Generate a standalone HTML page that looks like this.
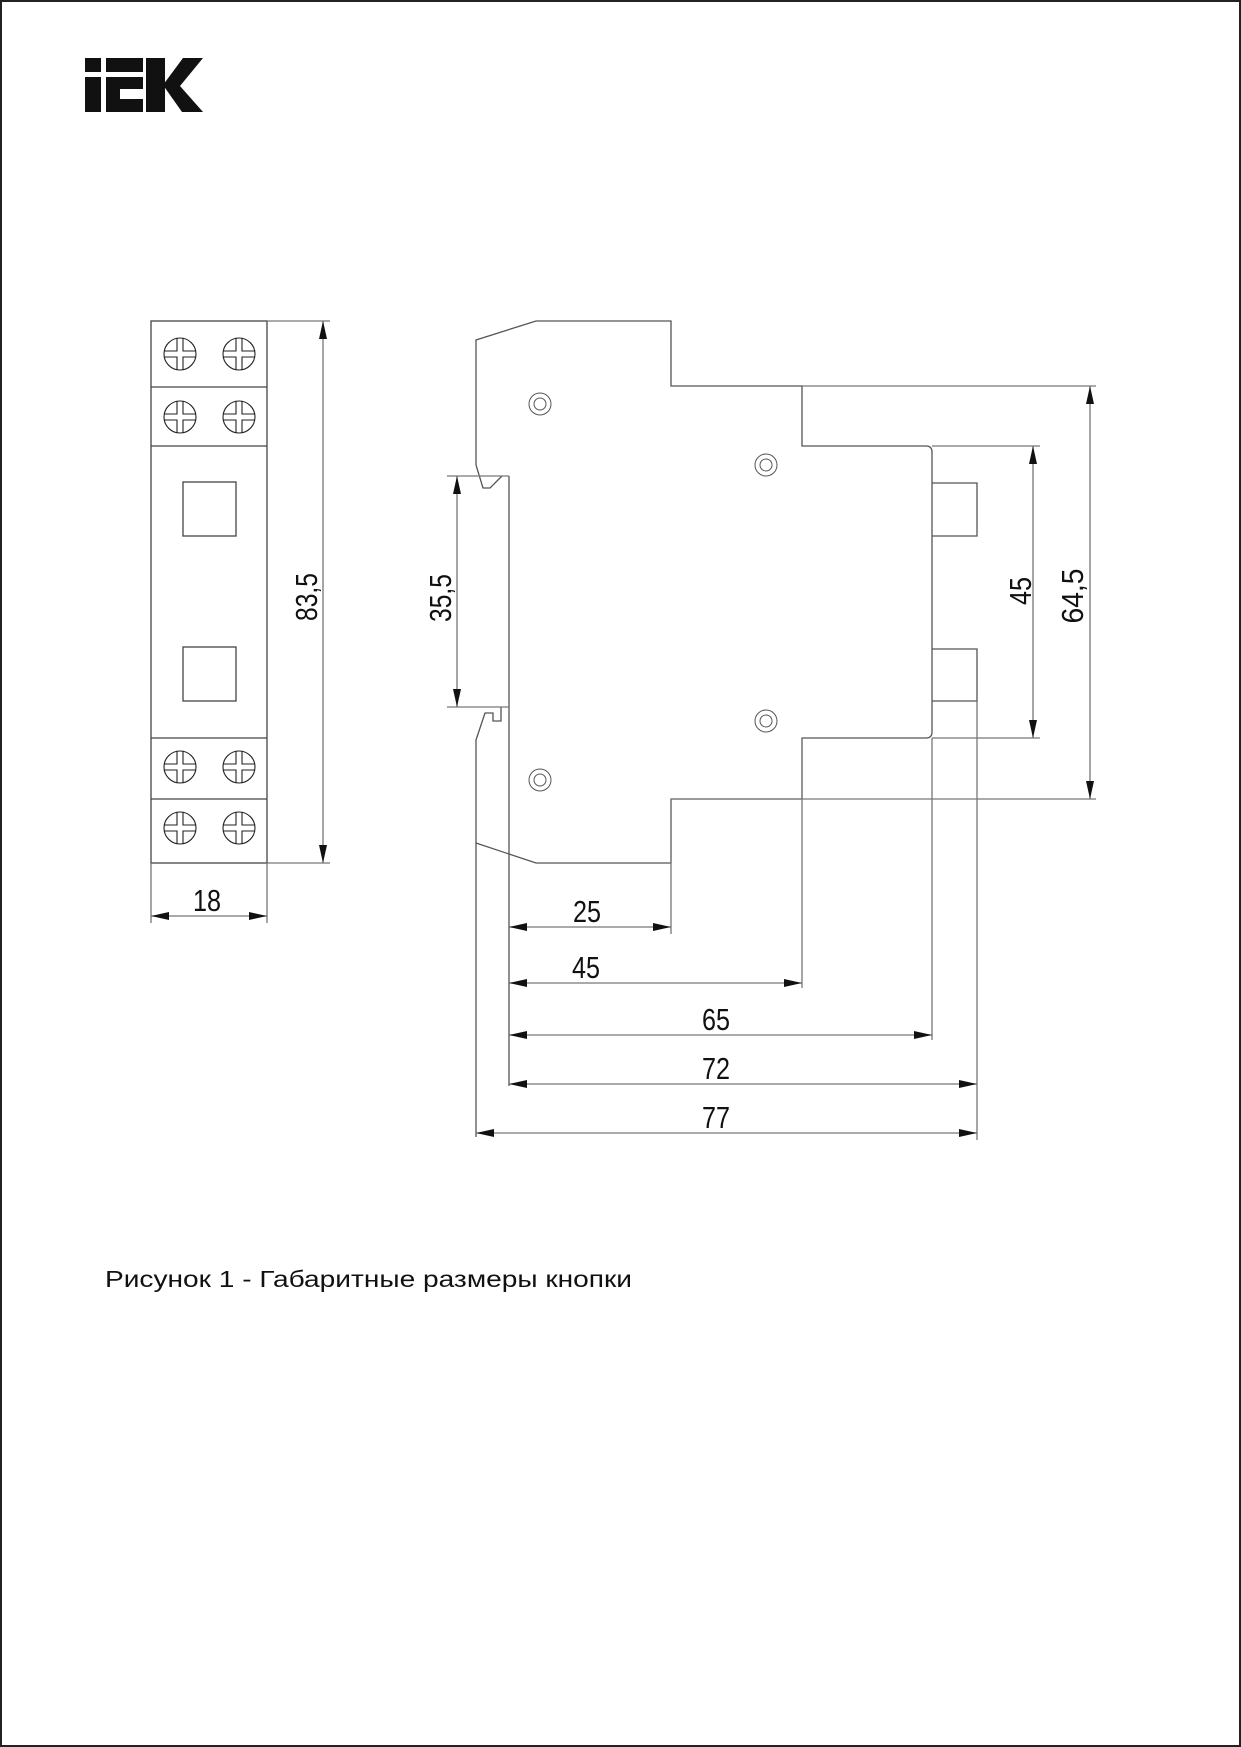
<!DOCTYPE html>
<html><head><meta charset="utf-8"><style>
html,body{margin:0;padding:0;background:#fff;}
svg{display:block;}
</style></head><body>
<svg width="1241" height="1747" viewBox="0 0 1241 1747" xmlns="http://www.w3.org/2000/svg" font-family="Liberation Sans, sans-serif">
<defs>
<marker id="a" viewBox="0 0 18 8" refX="18" refY="4" markerWidth="18" markerHeight="8" markerUnits="userSpaceOnUse" orient="auto-start-reverse"><path d="M0,0 L18,4 L0,8 Z" fill="#111"/></marker>
</defs>
<rect x="1" y="1" width="1239" height="1745" fill="#fff" stroke="#222" stroke-width="2"/>
<!-- logo -->
<g fill="#111">
<rect x="85" y="58" width="16" height="14"/><rect x="85" y="77" width="16" height="35"/>
<rect x="106" y="58" width="37" height="14"/><rect x="106" y="77" width="14" height="35"/>
<rect x="106" y="77" width="37" height="12"/><rect x="106" y="99" width="37" height="13"/>
<rect x="146" y="58" width="19" height="54"/>
<polygon points="163,85 183,58 203,58 180,86 203,112 182,112"/>
</g>
<g fill="none" stroke="#444" stroke-width="1.3">
<!-- left device -->
<rect x="151" y="321" width="116" height="542"/>
<line x1="151" y1="387" x2="267" y2="387"/><line x1="151" y1="446" x2="267" y2="446"/>
<line x1="151" y1="738" x2="267" y2="738"/><line x1="151" y1="799" x2="267" y2="799"/>
<rect x="183" y="482" width="53" height="54"/><rect x="183" y="647" width="53" height="54"/>
</g>
<g fill="none" stroke="#222" stroke-width="1.1">
<g id="s"><circle cx="180" cy="354" r="16"/><path d="M164,351H177V338M183,338V351H196M196,357H183V370M177,370V357H164"/></g>
<use href="#s" x="59"/><use href="#s" y="63"/><use href="#s" x="59" y="63"/>
<use href="#s" y="413"/><use href="#s" x="59" y="413"/><use href="#s" y="474"/><use href="#s" x="59" y="474"/>
</g>
<g fill="none" stroke="#777" stroke-width="1.3">
<line x1="267" y1="321" x2="330" y2="321"/><line x1="267" y1="863" x2="330" y2="863"/>
<line x1="323" y1="321" x2="323" y2="863" marker-start="url(#a)" marker-end="url(#a)"/>
<line x1="151" y1="863" x2="151" y2="923"/><line x1="267" y1="863" x2="267" y2="923"/>
<line x1="151" y1="916" x2="267" y2="916" marker-start="url(#a)" marker-end="url(#a)"/>
</g>
<!-- right device -->
<g fill="none" stroke="#555" stroke-width="1.3">
<path d="M476,465 V340 L536,321 H671 V386 H802 V446 H926 Q932,446 932,452 V732 Q932,738 926,738 H802 V799 H671 V863 H536 L476,843"/>
<path d="M476,465 L483,488 H490 L502,476"/>
<path d="M476,1137 V740 L485,713 H493 V721 H501 V707"/>
<line x1="509" y1="476" x2="509" y2="1086"/>
<path d="M932,483 H977 V536 H932 M932,649 H977 V701 H932"/>
</g>
<g fill="none" stroke="#555" stroke-width="1">
<circle cx="540" cy="404" r="11"/><circle cx="540" cy="404" r="6"/>
<circle cx="766" cy="465" r="11"/><circle cx="766" cy="465" r="6"/>
<circle cx="766" cy="721" r="11"/><circle cx="766" cy="721" r="6"/>
<circle cx="540" cy="780" r="11"/><circle cx="540" cy="780" r="6"/>
</g>
<g fill="none" stroke="#777" stroke-width="1.3">
<line x1="447" y1="476" x2="509" y2="476"/><line x1="447" y1="707" x2="509" y2="707"/>
<line x1="457" y1="476" x2="457" y2="707" marker-start="url(#a)" marker-end="url(#a)"/>
<line x1="802" y1="386" x2="1096" y2="386"/><line x1="671" y1="799" x2="1096" y2="799"/>
<line x1="1090" y1="386" x2="1090" y2="799" marker-start="url(#a)" marker-end="url(#a)"/>
<line x1="932" y1="446" x2="1040" y2="446"/><line x1="932" y1="738" x2="1040" y2="738"/>
<line x1="1033" y1="446" x2="1033" y2="738" marker-start="url(#a)" marker-end="url(#a)"/>
<line x1="671" y1="799" x2="671" y2="934"/><line x1="802" y1="738" x2="802" y2="988"/>
<line x1="932" y1="738" x2="932" y2="1040"/><line x1="977" y1="701" x2="977" y2="1140"/>
<line x1="509" y1="927" x2="671" y2="927" marker-start="url(#a)" marker-end="url(#a)"/>
<line x1="509" y1="983" x2="802" y2="983" marker-start="url(#a)" marker-end="url(#a)"/>
<line x1="509" y1="1035" x2="932" y2="1035" marker-start="url(#a)" marker-end="url(#a)"/>
<line x1="509" y1="1084" x2="977" y2="1084" marker-start="url(#a)" marker-end="url(#a)"/>
<line x1="476" y1="1133" x2="977" y2="1133" marker-start="url(#a)" marker-end="url(#a)"/>
</g>
<g fill="#111" font-size="31" text-anchor="middle">
<text x="207" y="911" textLength="28" lengthAdjust="spacingAndGlyphs">18</text>
<text x="587" y="922" textLength="28" lengthAdjust="spacingAndGlyphs">25</text>
<text x="586" y="978" textLength="28" lengthAdjust="spacingAndGlyphs">45</text>
<text x="716" y="1030" textLength="28" lengthAdjust="spacingAndGlyphs">65</text>
<text x="716" y="1079" textLength="28" lengthAdjust="spacingAndGlyphs">72</text>
<text x="716" y="1128" textLength="28" lengthAdjust="spacingAndGlyphs">77</text>
<text transform="translate(317,597) rotate(-90)" textLength="48" lengthAdjust="spacingAndGlyphs">83,5</text>
<text transform="translate(451,598) rotate(-90)" textLength="48" lengthAdjust="spacingAndGlyphs">35,5</text>
<text transform="translate(1031,591) rotate(-90)" textLength="28" lengthAdjust="spacingAndGlyphs">45</text>
<text transform="translate(1083,596) rotate(-90)" textLength="55" lengthAdjust="spacingAndGlyphs">64,5</text>
</g>
<text x="105" y="1287" font-size="23" fill="#111" textLength="527" lengthAdjust="spacingAndGlyphs">Рисунок 1 - Габаритные размеры кнопки</text>
</svg>
</body></html>
